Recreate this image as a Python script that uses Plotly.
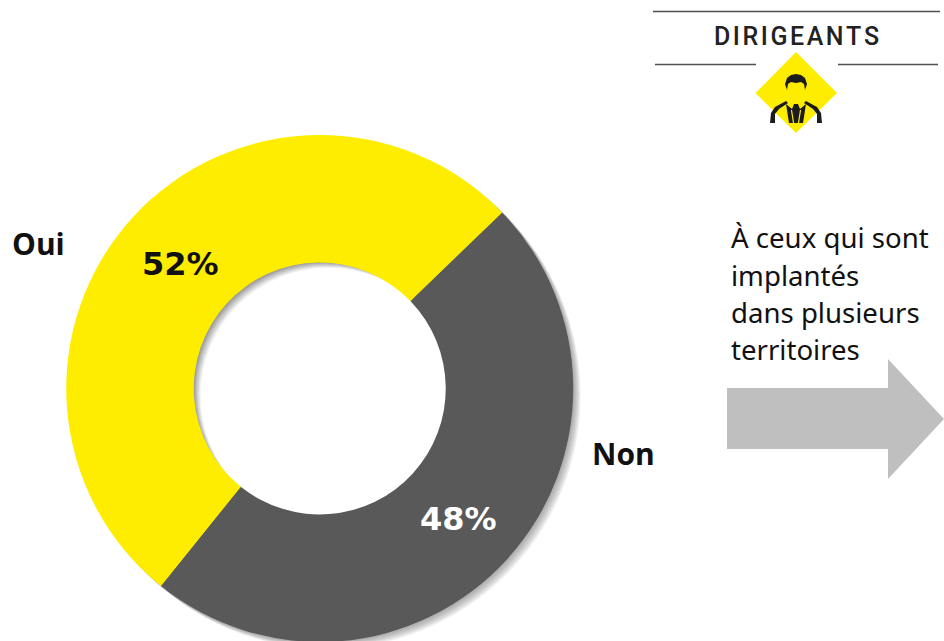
import plotly.graph_objects as go

categories = ["Non", "Oui"]
values = [48, 52]
colors = ["#595959", "#FFED00"]
side_lines = ["À ceux qui sont", "implantés", "dans plusieurs", "territoires"]
title = "\u200a".join("DIRIGEANTS")
pct_oui = "<b>52%</b>"
pct_non = "<b>48%</b>"

W, H = 944, 645
def X(p): return p / W
def Y(p): return 1 - p / H

def poly(pts):
    return "M " + " L ".join(f"{X(a):.5f},{Y(b):.5f}" for a, b in pts) + " Z"

def circle(cx, cy, r, fill):
    return dict(type="circle", xref="paper", yref="paper", x0=X(cx - r), x1=X(cx + r),
                y0=Y(cy + r), y1=Y(cy - r), fillcolor=fill, line_width=0, layer="below")

def line(x0, y0, x1, y1, color="#505050", w=1.4):
    return dict(type="line", xref="paper", yref="paper", x0=X(x0), x1=X(x1), y0=Y(y0), y1=Y(y1),
                line=dict(color=color, width=w), layer="above")

def filled(pts, color, layer="above"):
    return dict(type="path", xref="paper", yref="paper", path=poly(pts), fillcolor=color,
                line_width=0, layer=layer)

CX, CY, R, RI = 319.75, 388.5, 253.5, 126
shapes = []
# soft outer shadow of the ring
for off in range(10, 0, -1):
    shapes.append(circle(CX + off * 0.75, CY + off * 0.7, R, "rgba(80,80,80,0.06)"))
# hole with a soft inner shadow on its upper-left edge
shapes.append(circle(CX, CY, RI + 2, "#858585"))
for off in range(1, 14):
    g = min(255, 133 + off * 10)
    shapes.append(circle(CX + off * 0.72, CY + off * 0.6, RI + 2, f"rgb({g},{g},{g})"))

# header rules and diamond
shapes += [line(653, 11.5, 940, 11.5), line(655, 64.5, 756, 64.5), line(838, 64.5, 938, 64.5)]
shapes.append(filled([(755.5, 93), (796, 52), (837, 93), (796, 133)], "#FFED00"))
# person icon
ink = "#1c1c1c"
shapes.append(filled([(787, 90), (785, 84), (787, 78), (791, 75), (796, 74), (801, 75), (805, 78),
                      (807, 84), (805, 90), (804, 84), (801, 82), (796, 83), (791, 82), (788, 84)], ink))
shapes.append(filled([(770, 123), (771, 113), (775, 107), (786, 101), (788, 103), (779, 109),
                      (775, 114), (775, 123)], ink))
shapes.append(filled([(822, 123), (821, 113), (817, 107), (806, 101), (804, 103), (813, 109),
                      (817, 114), (817, 123)], ink))
shapes.append(filled([(786, 104), (792, 109), (794, 104), (798, 104), (800, 109), (806, 104),
                      (803, 123), (789, 123)], ink))
shapes.append(line(791.5, 110, 793.5, 123, color="#FFED00", w=1.2))
shapes.append(line(800.5, 110, 798.5, 123, color="#FFED00", w=1.2))
# arrow
shapes.append(filled([(727, 388), (888, 388), (888, 359), (944, 419), (888, 479), (888, 449), (727, 449)],
                     "#BFBFBF", layer="below"))

def note(text, x, y, size, color="#111111", family="DejaVu Sans", anchor="center", **font):
    return dict(text=text, x=X(x), y=Y(y), xref="paper", yref="paper", showarrow=False,
                xanchor=anchor, yanchor="middle",
                font=dict(family=family, size=size, color=color, **font))

annotations = [
    note(pct_oui, 180, 263.5, 32),
    note(pct_non, 458.5, 518.5, 32, color="#ffffff"),
    note("<b>Oui</b>", 38, 243, 30, family="Open Sans"),
    note("<b>Non</b>", 623.5, 453, 30, family="Open Sans"),
    note(title, 796.5, 36, 25, family="Roboto", color="#222222", weight=500),
]
for text, y in zip(side_lines, [237, 274.5, 311.5, 349]):
    annotations.append(note(text, 729, y, 27.6, family="Noto Sans", anchor="left"))

fig = go.Figure(go.Pie(
    labels=categories, values=values, hole=0.497, sort=False, direction="clockwise",
    rotation=46, marker=dict(colors=colors, line=dict(width=0)),
    textinfo="none", showlegend=False, hoverinfo="label+percent",
    domain=dict(x=[X(CX - R), X(CX + R)], y=[Y(CY + R), Y(CY - R)]),
))
fig.update_layout(width=W, height=H, margin=dict(l=0, r=0, t=0, b=0),
                  paper_bgcolor="white", plot_bgcolor="white",
                  shapes=shapes, annotations=annotations)
fig.write_html("out.html", config=dict(displayModeBar=False),
               post_script="document.body.style.margin='0';document.documentElement.style.overflow='hidden';")
